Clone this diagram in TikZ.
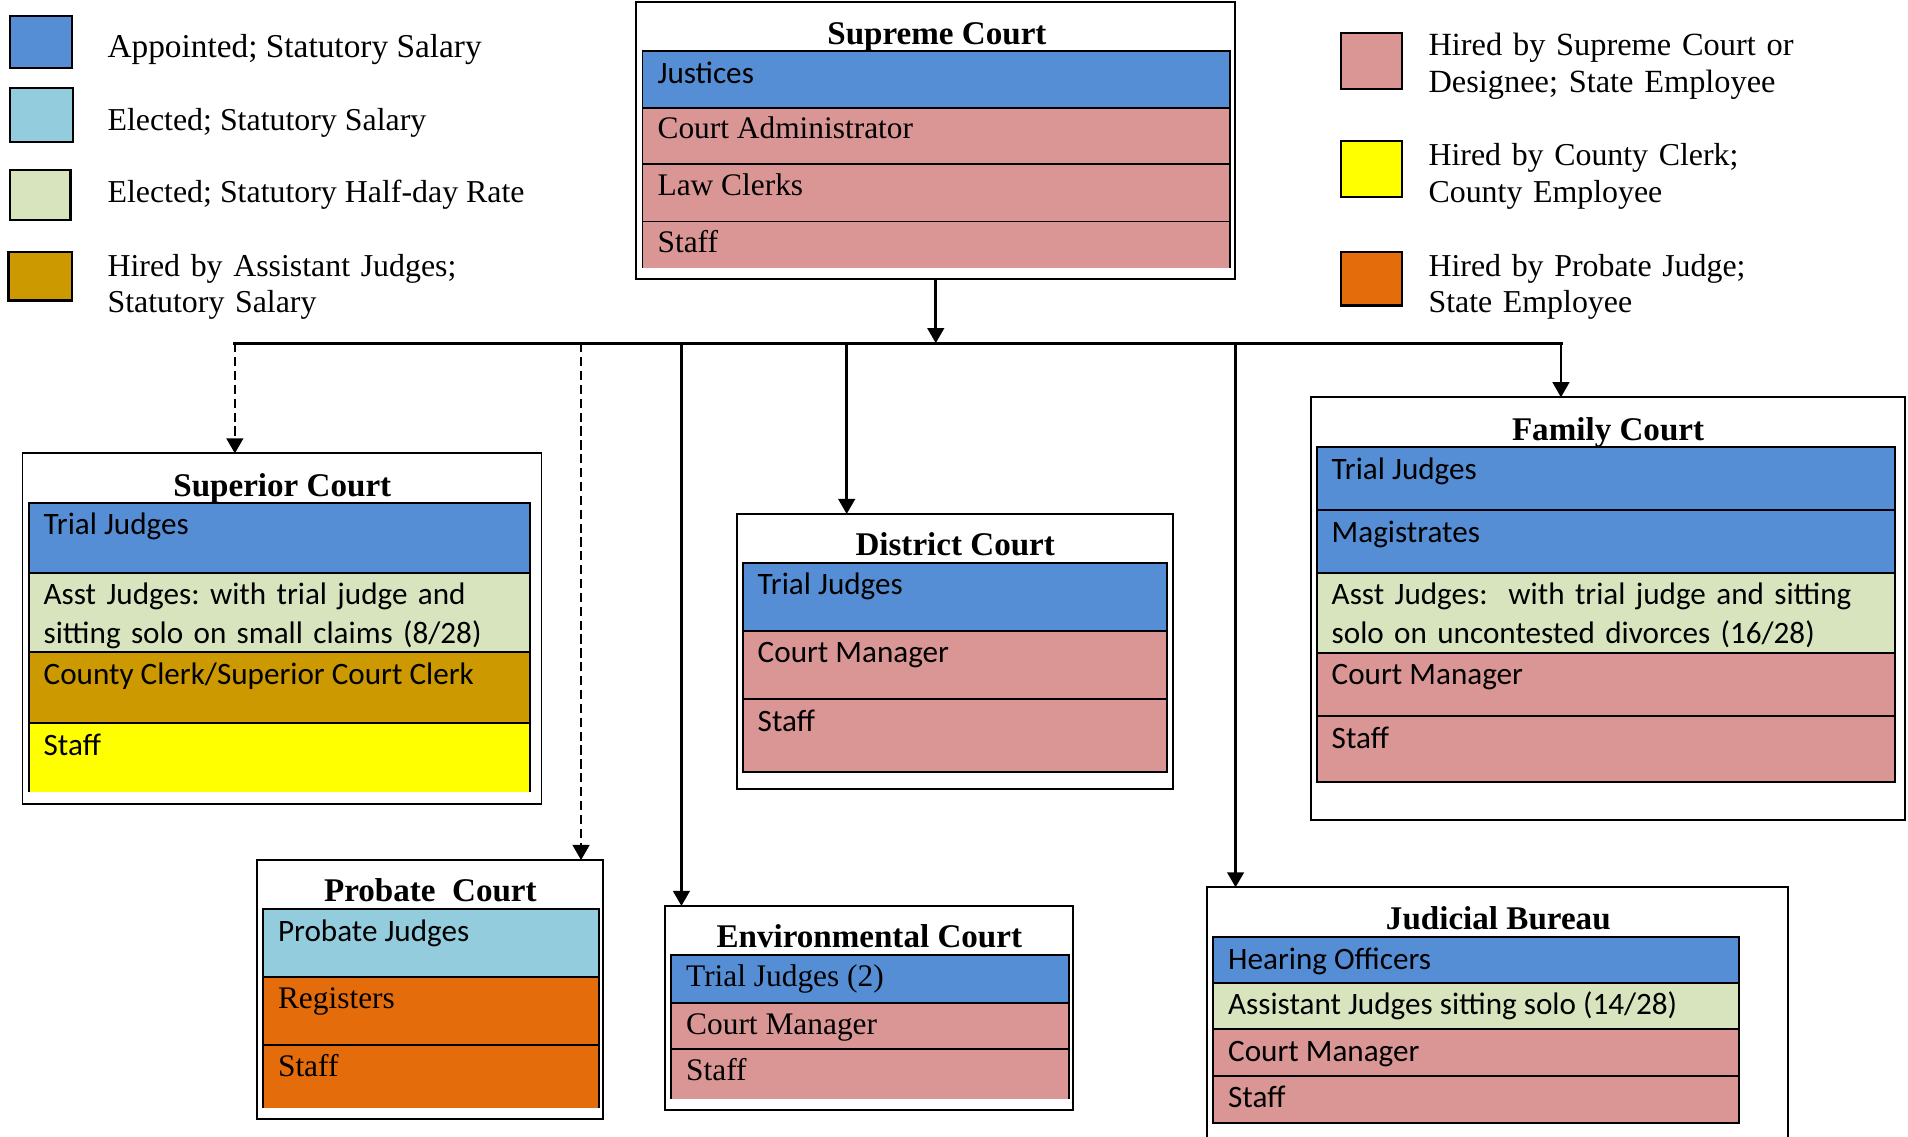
\documentclass[tikz,border=0pt]{standalone}
\usepackage{fontspec}
\setmainfont{Liberation Serif}
\newfontfamily\calibrifont{Carlito}
\usepackage{tikz}
\usetikzlibrary{arrows.meta, positioning}
\definecolor{appointed-blue}{RGB}{85,142,213}
\definecolor{elected-blue}{RGB}{147,205,221}
\definecolor{halfday-green}{RGB}{215,228,189}
\definecolor{asstjudge-gold}{RGB}{204,153,0}
\definecolor{state-pink}{RGB}{217,150,148}
\definecolor{county-yellow}{RGB}{255,255,0}
\definecolor{probate-orange}{RGB}{228,108,10}
\frenchspacing

\begin{document}
\begin{tikzpicture}[
    x=0.5pt, y=-0.5pt,
    court/.style={rectangle, draw=black, line width=0.8pt, fill=white, anchor=north west, inner sep=0pt, outer sep=0pt},
    courttitle/.style={anchor=base, inner sep=0pt, yshift=-0.5pt, font=\fontsize{13.6}{16}\selectfont\bfseries},
    rowbox/.style={rectangle, draw=black, line width=0.8pt, anchor=north west, inner sep=0pt, outer sep=0pt, minimum width=#1},
    openrow/.style={rowbox=#1, draw=none},
    rowline/.style={line width=0.8pt},
    sanstext/.style={anchor=base west, inner sep=0pt, xshift=6pt, yshift=-13.25pt, font=\calibrifont\fontsize{12.8}{15.75}\selectfont},
    seriftext/.style={anchor=base west, inner sep=0pt, xshift=6pt, yshift=-12.75pt, font=\fontsize{12.9}{15}\selectfont},
    swatch/.style={rectangle, draw=black, line width=0.9pt, anchor=north west, inner sep=0pt, outer sep=0pt, minimum width=25.5pt, minimum height=21.5pt},
    keytext/.style={anchor=base west, inner sep=0pt, yshift=-1pt, font=\fontsize{13.1}{15}\selectfont},
    link/.style={-{Triangle[length=6.2pt, width=6.8pt]}, line width=1.1pt},
    dashlink/.style={link, dash pattern=on 3.8pt off 1.9pt},
    bus/.style={line width=1.35pt, line cap=rect}
]
\useasboundingbox (0,0) rectangle (1568,934);

% Legend (left)
\node[swatch, fill=appointed-blue] (key-appt) at (8,13) {};
\node[keytext, font=\fontsize{13.7}{15}\selectfont] (key-appt-t) at (88,45) {Appointed; Statutory Salary};
\node[swatch, fill=elected-blue, minimum width=26pt, minimum height=22.5pt] (key-elect) at (8,72) {};
\node[keytext] (key-elect-t) at (88,105) {Elected; Statutory Salary};
\node[swatch, fill=halfday-green, minimum width=25pt, minimum height=20.5pt] (key-half) at (8,140) {};
\node[keytext] (key-half-t) at (88,164) {Elected; Statutory Half-day Rate};
\node[swatch, fill=asstjudge-gold, minimum width=26pt, minimum height=20pt] (key-asst) at (7,207) {};
\node[keytext, text width=175pt, align=left] (key-asst-t) at (88,225) {Hired by Assistant Judges;\\Statutory Salary};

% Legend (right)
\node[swatch, fill=state-pink, minimum width=25pt, minimum height=23pt] (key-state) at (1102,27) {};
\node[keytext, text width=175pt, align=left, font=\fontsize{13.3}{15}\selectfont] (key-state-t) at (1173.6,43.8) {Hired by Supreme Court or\\Designee; State Employee};
\node[swatch, fill=county-yellow, minimum width=25pt, minimum height=23pt] (key-county) at (1102,116) {};
\node[keytext, text width=175pt, align=left] (key-county-t) at (1173.6,134) {Hired by County Clerk;\\County Employee};
\node[swatch, fill=probate-orange, minimum width=25pt, minimum height=22pt] (key-probate) at (1102,207) {};
\node[keytext, text width=175pt, align=left] (key-probate-t) at (1173.6,225) {Hired by Probate Judge;\\State Employee};

% Supreme Court
\node[court, minimum width=246pt, minimum height=113.5pt] (supreme) at (523,2) {};
\node[courttitle] (supreme-title) at (770,35.5) {Supreme Court};
\node[rowbox=241.5pt, minimum height=23.25pt, fill=appointed-blue] (sc-justices) at (528,42) {};
\node[rowbox=241.5pt, minimum height=23.25pt, fill=state-pink, below=0pt of sc-justices] (sc-admin) {};
\node[rowbox=241.5pt, minimum height=23.5pt, fill=state-pink, below=0pt of sc-admin] (sc-clerks) {};
\node[openrow=241.5pt, minimum height=19pt, fill=state-pink, below=0pt of sc-clerks] (sc-staff) {};
\draw[rowline] (sc-staff.south west) |- (sc-staff.north east) -- (sc-staff.south east);
\node[sanstext] (sc-justices-t) at (sc-justices.north west) {Justices};
\node[seriftext] (sc-admin-t) at (sc-admin.north west) {Court Administrator};
\node[seriftext] (sc-clerks-t) at (sc-clerks.north west) {Law Clerks};
\node[seriftext] (sc-staff-t) at (sc-staff.north west) {Staff};

% Superior Court
\node[court, minimum width=213.25pt, minimum height=144.05pt] (superior) at (18.5,372.6) {};
\node[courttitle] (superior-title) at (232,406.8) {Superior Court};
\node[rowbox=205.9pt, minimum height=28.8pt, fill=appointed-blue] (su-judges) at (23.5,413) {};
\node[rowbox=205.9pt, minimum height=32.5pt, fill=halfday-green, below=0pt of su-judges] (su-asst) {};
\node[rowbox=205.9pt, minimum height=29.2pt, fill=asstjudge-gold, below=0pt of su-asst] (su-clerk) {};
\node[openrow=205.9pt, minimum height=28.5pt, fill=county-yellow, below=0pt of su-clerk] (su-staff) {};
\draw[rowline] (su-staff.south west) |- (su-staff.north east) -- (su-staff.south east);
\node[sanstext] (su-judges-t) at (su-judges.north west) {Trial Judges};
\node[sanstext, text width=200pt, align=left] (su-asst-t) at (su-asst.north west) {Asst Judges: with trial judge and\\sitting solo on small claims (8/28)};
\node[sanstext] (su-clerk-t) at (su-clerk.north west) {County Clerk/Superior Court Clerk};
\node[sanstext] (su-staff-t) at (su-staff.north west) {Staff};

% District Court
\node[court, minimum width=179.45pt, minimum height=113.15pt] (district) at (605.4,422.4) {};
\node[courttitle] (district-title) at (785,455.3) {District Court};
\node[rowbox=174.25pt, minimum height=27.95pt, fill=appointed-blue] (di-judges) at (610.3,462.4) {};
\node[rowbox=174.25pt, minimum height=28.2pt, fill=state-pink, below=0pt of di-judges] (di-manager) {};
\node[rowbox=174.25pt, minimum height=29.75pt, fill=state-pink, below=0pt of di-manager] (di-staff) {};
\node[sanstext] (di-judges-t) at (di-judges.north west) {Trial Judges};
\node[sanstext] (di-manager-t) at (di-manager.north west) {Court Manager};
\node[sanstext] (di-staff-t) at (di-staff.north west) {Staff};

% Family Court
\node[court, minimum width=244pt, minimum height=173.7pt] (family) at (1077.3,326.5) {};
\node[courttitle] (family-title) at (1321.5,361) {Family Court};
\node[rowbox=237.7pt, minimum height=25.75pt, fill=appointed-blue] (fa-judges) at (1082,367.6) {};
\node[rowbox=237.7pt, minimum height=25.75pt, fill=appointed-blue, below=0pt of fa-judges] (fa-magistrates) {};
\node[rowbox=237.7pt, minimum height=32.9pt, fill=halfday-green, below=0pt of fa-magistrates] (fa-asst) {};
\node[rowbox=237.7pt, minimum height=25.9pt, fill=state-pink, below=0pt of fa-asst] (fa-manager) {};
\node[rowbox=237.7pt, minimum height=27.1pt, fill=state-pink, below=0pt of fa-manager] (fa-staff) {};
\node[sanstext] (fa-judges-t) at (fa-judges.north west) {Trial Judges};
\node[sanstext] (fa-magistrates-t) at (fa-magistrates.north west) {Magistrates};
\node[sanstext, text width=228pt, align=left] (fa-asst-t) at (fa-asst.north west) {Asst Judges:~ with trial judge and sitting\\solo on uncontested divorces (16/28)};
\node[sanstext] (fa-manager-t) at (fa-manager.north west) {Court Manager};
\node[sanstext] (fa-staff-t) at (fa-staff.north west) {Staff};

% Probate Court
\node[court, minimum width=142.15pt, minimum height=106.55pt] (probate) at (211.4,706.8) {};
\node[courttitle] (probate-title) at (353.7,739.6) {Probate~ Court};
\node[rowbox=138.25pt, minimum height=27.85pt, fill=elected-blue] (pr-judges) at (216.1,747.3) {};
\node[rowbox=138.25pt, minimum height=27.9pt, fill=probate-orange, below=0pt of pr-judges] (pr-registers) {};
\node[openrow=138.25pt, minimum height=26.05pt, fill=probate-orange, below=0pt of pr-registers] (pr-staff) {};
\draw[rowline] (pr-staff.south west) |- (pr-staff.north east) -- (pr-staff.south east);
\node[sanstext] (pr-judges-t) at (pr-judges.north west) {Probate Judges};
\node[seriftext] (pr-registers-t) at (pr-registers.north west) {Registers};
\node[seriftext] (pr-staff-t) at (pr-staff.north west) {Staff};

% Environmental Court
\node[court, minimum width=167.75pt, minimum height=83.85pt] (environmental) at (546.5,744.5) {};
\node[courttitle] (environmental-title) at (714.4,778) {Environmental Court};
\node[rowbox=163.5pt, minimum height=19.85pt, fill=appointed-blue] (en-judges) at (551.5,784.9) {};
\node[rowbox=163.5pt, minimum height=18.75pt, fill=state-pink, below=0pt of en-judges] (en-manager) {};
\node[openrow=163.5pt, minimum height=20.55pt, fill=state-pink, below=0pt of en-manager] (en-staff) {};
\draw[rowline] (en-staff.south west) |- (en-staff.north east) -- (en-staff.south east);
\node[seriftext] (en-judges-t) at (en-judges.north west) {Trial Judges (2)};
\node[seriftext] (en-manager-t) at (en-manager.north west) {Court Manager};
\node[seriftext] (en-staff-t) at (en-staff.north west) {Staff};

% Judicial Bureau (runs off the bottom)
\node[court, draw=none, minimum width=238.95pt, minimum height=102.4pt] (judicial) at (991.6,729.2) {};
\draw[rowline] (judicial.south west) |- (judicial.north east) -- (judicial.south east);
\node[courttitle] (judicial-title) at (1231.3,763) {Judicial Bureau};
\node[rowbox=215.95pt, minimum height=18.65pt, fill=appointed-blue] (jb-officers) at (996.9,770.3) {};
\node[rowbox=215.95pt, minimum height=19.05pt, fill=halfday-green, below=0pt of jb-officers] (jb-asst) {};
\node[rowbox=215.95pt, minimum height=19.15pt, fill=state-pink, below=0pt of jb-asst] (jb-manager) {};
\node[rowbox=215.95pt, minimum height=19.3pt, fill=state-pink, below=0pt of jb-manager] (jb-staff) {};
\node[sanstext] (jb-officers-t) at (jb-officers.north west) {Hearing Officers};
\node[sanstext] (jb-asst-t) at (jb-asst.north west) {Assistant Judges sitting solo (14/28)};
\node[sanstext] (jb-manager-t) at (jb-manager.north west) {Court Manager};
\node[sanstext] (jb-staff-t) at (jb-staff.north west) {Staff};

% Connectors
\coordinate (bus-w) at (193,282);
\coordinate (bus-e) at (1282.8,282);
\coordinate (tap-probate) at (477.5,282);
\coordinate (tap-env) at (560,282);
\coordinate (tap-district) at (695.8,282);
\coordinate (tap-bureau) at (1015.4,282);
\draw[link] (supreme.south) -- (supreme.south |- bus-w);
\draw[bus] (bus-w) -- (bus-e);
\draw[dashlink] (bus-w) -- (bus-w |- superior.north);
\draw[dashlink] (tap-probate) -- (tap-probate |- probate.north);
\draw[link] (tap-env) -- (tap-env |- environmental.north);
\draw[link] (tap-district) -- (tap-district |- district.north);
\draw[link] (tap-bureau) -- (tap-bureau |- judicial.north);
\draw[link] (bus-e) -- (bus-e |- family.north);

\end{tikzpicture}
\end{document}
